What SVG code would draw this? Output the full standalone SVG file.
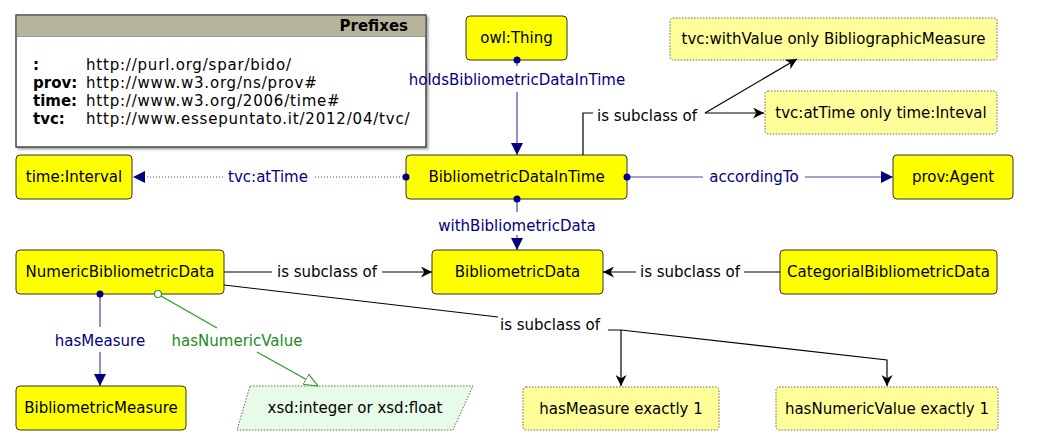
<svg xmlns="http://www.w3.org/2000/svg" width="1037" height="445" viewBox="0 0 1037 445">
<style>
text{font-family:"DejaVu Sans","Liberation Sans",sans-serif;font-size:15px}
.u{letter-spacing:0.8px}
.n rect{fill:#ffff00;stroke:#333;stroke-width:1}
.r rect{fill:#ffff99;stroke:#666;stroke-width:1;stroke-dasharray:1.5,1.5}
.t{fill:#000;text-anchor:middle}
.op{stroke:#4a4a9a;stroke-width:1.2;fill:none}
.opl{fill:#000080;text-anchor:middle}
.sc{stroke:#000;stroke-width:1.2;fill:none}
.dp{stroke:#2a9a2a;stroke-width:1.2;fill:none}
.dpl{fill:#228b22;text-anchor:middle}
.dot{fill:#000080}
</style>
<defs>
<marker id="ao" viewBox="0 0 10 10" refX="10" refY="5" markerWidth="12" markerHeight="12" markerUnits="userSpaceOnUse" orient="auto"><path d="M0,0L10,5L0,10z" fill="#000080"/></marker>
<marker id="as" viewBox="0 0 10 10" refX="10" refY="5" markerWidth="11" markerHeight="11" markerUnits="userSpaceOnUse" orient="auto"><path d="M0,0L10,5L0,10L3,5z" fill="#000"/></marker>
<marker id="ad" viewBox="0 0 12 10" refX="12" refY="5" markerWidth="14" markerHeight="12" markerUnits="userSpaceOnUse" orient="auto"><path d="M0,0L12,5L0,10z" fill="#fff" stroke="#2a9a2a" stroke-width="1"/></marker>
<filter id="sh" x="-5%" y="-5%" width="110%" height="115%"><feDropShadow dx="2" dy="2" stdDeviation="1.2" flood-color="#000" flood-opacity="0.35"/></filter>
</defs>

<g id="prefixes">
<rect x="16" y="15" width="410" height="132" fill="#fff" stroke="#444" filter="url(#sh)"/>
<rect x="16.5" y="15.5" width="409" height="21" fill="#b6b59c"/>
<line x1="16" y1="36.5" x2="426" y2="36.5" stroke="#999"/>
<rect x="16" y="15" width="410" height="132" fill="none" stroke="#444"/>
<text x="408" y="31" text-anchor="end" font-weight="bold">Prefixes</text>
<text x="33" y="70" font-weight="bold">:</text><text class="u" x="86" y="70">http://purl.org/spar/bido/</text>
<text x="33" y="88" font-weight="bold">prov:</text><text class="u" x="86" y="88">http://www.w3.org/ns/prov#</text>
<text x="33" y="106" font-weight="bold">time:</text><text class="u" x="86" y="106">http://www.w3.org/2006/time#</text>
<text x="33" y="124" font-weight="bold">tvc:</text><text class="u" x="86" y="124">http://www.essepuntato.it/2012/04/tvc/</text>
</g>

<g id="owlThing" class="n"><rect x="466" y="16" width="101" height="44" rx="4"/><text class="t" x="516.5" y="43">owl:Thing</text></g>
<g id="withValueOnly" class="r"><rect x="670" y="18" width="327" height="42" rx="3"/><text class="t" x="833.5" y="44">tvc:withValue only BibliographicMeasure</text></g>
<g id="atTimeOnly" class="r"><rect x="765" y="91" width="232" height="43" rx="3"/><text class="t" x="881" y="118">tvc:atTime only time:Inteval</text></g>
<g id="timeInterval" class="n"><rect x="16" y="155" width="116" height="44" rx="4"/><text class="t" x="74" y="182">time:Interval</text></g>
<g id="BibliometricDataInTime" class="n"><rect x="406" y="155" width="221" height="44" rx="4"/><text class="t" x="516.5" y="182">BibliometricDataInTime</text></g>
<g id="provAgent" class="n"><rect x="893" y="155" width="120" height="44" rx="4"/><text class="t" x="953" y="182">prov:Agent</text></g>
<g id="NumericBibliometricData" class="n"><rect x="16" y="250" width="208" height="44" rx="4"/><text class="t" x="120" y="277">NumericBibliometricData</text></g>
<g id="BibliometricData" class="n"><rect x="432" y="250" width="171" height="44" rx="4"/><text class="t" x="517.5" y="277">BibliometricData</text></g>
<g id="CategorialBibliometricData" class="n"><rect x="780" y="250" width="217" height="44" rx="4"/><text class="t" x="888.5" y="277">CategorialBibliometricData</text></g>
<g id="BibliometricMeasure" class="n"><rect x="16" y="386" width="170" height="44" rx="4"/><text class="t" x="101" y="413">BibliometricMeasure</text></g>
<g id="xsdNumber"><polygon points="250,386 473,386 453,430 237,430" fill="#e8fbe8" stroke="#666" stroke-dasharray="1.5,1.5"/><text class="t" x="355" y="413">xsd:integer or xsd:float</text></g>
<g id="hasMeasureExactly1" class="r"><rect x="523" y="387" width="196" height="43" rx="3"/><text class="t" x="621" y="414">hasMeasure exactly 1</text></g>
<g id="hasNumericValueExactly1" class="r"><rect x="776" y="387" width="222" height="43" rx="3"/><text class="t" x="887" y="414">hasNumericValue exactly 1</text></g>

<g id="connectors">
<line class="op" x1="517" y1="60" x2="517" y2="66"/>
<line class="op" x1="517" y1="92" x2="517" y2="155" marker-end="url(#ao)"/>
<circle class="dot" cx="517" cy="60" r="3.5"/>
<text class="opl" x="517" y="85">holdsBibliometricDataInTime</text>
<line class="op" x1="406" y1="177" x2="313" y2="177" stroke-dasharray="1,2"/>
<line class="op" x1="223" y1="177" x2="133" y2="177" stroke-dasharray="1,2" marker-end="url(#ao)"/>
<circle class="dot" cx="406" cy="177" r="3.5"/>
<text class="opl" x="268" y="182">tvc:atTime</text>
<line class="op" x1="627" y1="177" x2="703" y2="177"/>
<line class="op" x1="805" y1="177" x2="893" y2="177" marker-end="url(#ao)"/>
<circle class="dot" cx="627" cy="177" r="3.5"/>
<text class="opl" x="754" y="182">accordingTo</text>
<line class="op" x1="517" y1="199" x2="517" y2="212"/>
<line class="op" x1="517" y1="235" x2="517" y2="250" marker-end="url(#ao)"/>
<circle class="dot" cx="517" cy="199" r="3.5"/>
<text class="opl" x="517" y="231">withBibliometricData</text>
<polyline class="sc" points="583,155 583,113 593,113"/>
<text x="597" y="121">is subclass of</text>
<line class="sc" x1="705" y1="113" x2="764" y2="113" marker-end="url(#as)"/>
<line class="sc" x1="705" y1="113" x2="797" y2="59" marker-end="url(#as)"/>
<line class="sc" x1="224" y1="272" x2="272" y2="272"/>
<text class="t" x="327" y="277">is subclass of</text>
<line class="sc" x1="382" y1="272" x2="432" y2="272" marker-end="url(#as)"/>
<line class="sc" x1="780" y1="272" x2="744" y2="272"/>
<text class="t" x="690" y="277">is subclass of</text>
<line class="sc" x1="636" y1="272" x2="603" y2="272" marker-end="url(#as)"/>
<line class="sc" x1="224" y1="285" x2="498" y2="317"/>
<text x="500" y="330">is subclass of</text>
<polyline class="sc" points="608,330 621,330 887,360 887,386" marker-end="url(#as)"/>
<line class="sc" x1="621" y1="330" x2="621" y2="386" marker-end="url(#as)"/>
<line class="op" x1="100" y1="294" x2="100" y2="327"/>
<line class="op" x1="100" y1="352" x2="100" y2="386" marker-end="url(#ao)"/>
<circle class="dot" cx="100" cy="294" r="3.5"/>
<text class="opl" x="100" y="346">hasMeasure</text>
<line class="dp" x1="161" y1="296" x2="217" y2="328"/>
<line class="dp" x1="257" y1="352" x2="318" y2="386" marker-end="url(#ad)"/>
<circle cx="158" cy="294" r="3.5" fill="#fff" stroke="#2a9a2a" stroke-width="1.2"/>
<text class="dpl" x="237" y="346">hasNumericValue</text>
</g>
</svg>
